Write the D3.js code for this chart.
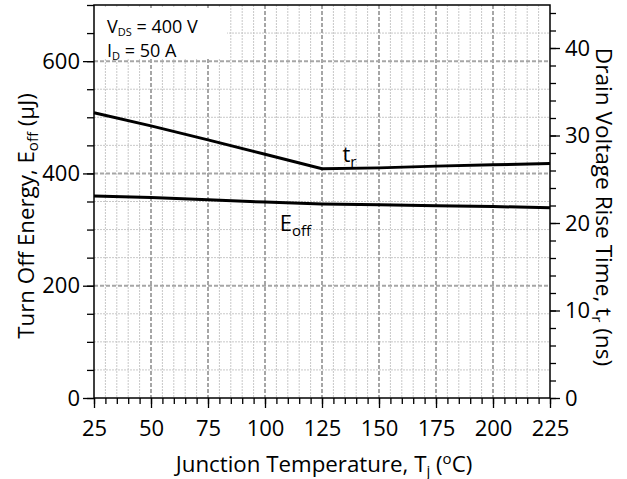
<!DOCTYPE html>
<html>
<head>
<meta charset="utf-8">
<script src="https://cdn.jsdelivr.net/npm/d3@7"></script>
<style>
  body { margin: 0; background: #fff; }
  text { font-family: "Open Sans", sans-serif; fill: #000; }
</style>
</head>
<body>
<div id="chart"></div>
<script>
// temperature points (deg C)
const temps = [25, 50, 75, 100, 125, 150, 175, 200, 225];
// drain voltage rise time t_r (ns), right axis
const riseTime = [32.6, 31.1, 29.5, 27.85, 26.2, 26.3, 26.5, 26.65, 26.8];
// turn off energy E_off (uJ), left axis
const turnOffEnergy = [360, 357, 353, 349, 345.5, 344, 342.5, 341, 339];

const xTicks = [25, 50, 75, 100, 125, 150, 175, 200, 225];
const yLeftTicks = [0, 200, 400, 600];
const yRightTicks = [0, 10, 20, 30, 40];

const margin = { top: 5, right: 77, bottom: 81, left: 94 };
const W = 627, H = 479;
const width = W - margin.left - margin.right;
const height = H - margin.top - margin.bottom;

const svg = d3.select("#chart").append("svg")
    .attr("width", W)
    .attr("height", H);

const g = svg.append("g")
    .attr("transform", `translate(${margin.left},${margin.top})`);

const x = d3.scaleLinear().domain([25, 225]).range([0, width]);
const yL = d3.scaleLinear().domain([0, 700]).range([height, 0]);
const yR = d3.scaleLinear().domain([0, 45]).range([height, height - 45 * 8.75]);

// grid - minor dotted
const xMinor = d3.range(30, 225, 5).filter(v => v % 25 !== 0);
const yMinor = d3.range(50, 700, 50).filter(v => v % 200 !== 0);

g.selectAll(".vminor").data(xMinor).enter().append("line")
    .attr("x1", d => x(d)).attr("x2", d => x(d))
    .attr("y1", 0).attr("y2", height)
    .attr("stroke", "#c8c8c8").attr("stroke-width", 1)
    .attr("stroke-dasharray", "2,1");

g.selectAll(".hminor").data(yMinor).enter().append("line")
    .attr("x1", 0).attr("x2", width)
    .attr("y1", d => yL(d)).attr("y2", d => yL(d))
    .attr("stroke", "#c8c8c8").attr("stroke-width", 1)
    .attr("stroke-dasharray", "2,1");

// grid - major dashed
g.selectAll(".vmajor").data(xTicks.slice(1, -1)).enter().append("line")
    .attr("x1", d => x(d)).attr("x2", d => x(d))
    .attr("y1", 0).attr("y2", height)
    .attr("stroke", "#a6a6a6").attr("stroke-width", 2)
    .attr("stroke-dasharray", "4,2");

g.selectAll(".hmajor").data(yLeftTicks.slice(1)).enter().append("line")
    .attr("x1", 0).attr("x2", width)
    .attr("y1", d => yL(d)).attr("y2", d => yL(d))
    .attr("stroke", "#a6a6a6").attr("stroke-width", 2)
    .attr("stroke-dasharray", "4,2");

// white box behind the test conditions
g.append("rect")
    .attr("x", 1).attr("y", 3)
    .attr("width", 132).attr("height", 51)
    .attr("fill", "#fff");

// frame
g.append("rect")
    .attr("width", width).attr("height", height)
    .attr("fill", "none").attr("stroke", "#000").attr("stroke-width", 1.5);

// axes
const styleAxis = sel => {
    sel.select(".domain").remove();
    sel.selectAll("line").attr("stroke", "#000").attr("stroke-width", 1.3);
    sel.selectAll("text").style("font-size", "22px").style("font-family", "'Open Sans', sans-serif");
};

g.append("g").attr("transform", `translate(0,${height})`)
    .call(d3.axisBottom(x).tickValues(d3.range(25, 226, 5)).tickSize(6).tickFormat(""))
    .call(styleAxis);
g.append("g").attr("transform", `translate(0,${height})`)
    .call(d3.axisBottom(x).tickValues(xTicks).tickSize(10).tickPadding(12))
    .call(styleAxis);

g.append("g")
    .call(d3.axisLeft(yL).tickValues(d3.range(0, 701, 50)).tickSize(7).tickFormat(""))
    .call(styleAxis);
g.append("g")
    .call(d3.axisLeft(yL).tickValues(yLeftTicks).tickSize(11).tickPadding(3))
    .call(styleAxis);

g.append("g").attr("transform", `translate(${width},0)`)
    .call(d3.axisRight(yR).tickValues(d3.range(0, 45, 2)).tickSize(6).tickFormat(""))
    .call(styleAxis);
g.append("g").attr("transform", `translate(${width},0)`)
    .call(d3.axisRight(yR).tickValues(yRightTicks).tickSize(10).tickPadding(5))
    .call(styleAxis);

// curves
const lineR = d3.line().x((d, i) => x(temps[i])).y(d => yR(d));
const lineL = d3.line().x((d, i) => x(temps[i])).y(d => yL(d));

g.append("path").datum(riseTime)
    .attr("d", lineR)
    .attr("fill", "none").attr("stroke", "#000").attr("stroke-width", 3);

g.append("path").datum(turnOffEnergy)
    .attr("d", lineL)
    .attr("fill", "none").attr("stroke", "#000").attr("stroke-width", 3);

// curve labels
const tr = g.append("text")
    .attr("x", x(134)).attr("y", yR(26.8) - 2)
    .style("font-size", "22px");
tr.append("tspan").text("t");
tr.append("tspan").attr("dy", 5).style("font-size", "15px").text("r");

const eo = g.append("text")
    .attr("x", x(106.5)).attr("y", yL(297))
    .style("font-size", "22px");
eo.append("tspan").text("E");
eo.append("tspan").attr("dy", 5).style("font-size", "15px").text("off");

// test conditions
const c1 = g.append("text").attr("x", 13).attr("y", 28).style("font-size", "18px");
c1.append("tspan").text("V");
c1.append("tspan").attr("dy", 3).style("font-size", "11px").text("DS");
c1.append("tspan").attr("dy", -3).text(" = 400 V");

const c2 = g.append("text").attr("x", 13).attr("y", 52).style("font-size", "18px");
c2.append("tspan").text("I");
c2.append("tspan").attr("dy", 3).style("font-size", "11px").text("D");
c2.append("tspan").attr("dy", -3).text(" = 50 A");

// axis titles
const xt = svg.append("text")
    .attr("x", 324).attr("y", 472)
    .attr("text-anchor", "middle")
    .style("font-size", "22.3px");
xt.append("tspan").text("Junction Temperature, T");
xt.append("tspan").attr("dy", 4).style("font-size", "15px").text("j");
xt.append("tspan").attr("dy", -4).text(" (");
xt.append("tspan").attr("dy", -8).style("font-size", "15px").text("o");
xt.append("tspan").attr("dy", 8).text("C)");

const yt = svg.append("text")
    .attr("transform", "translate(34,216) rotate(-90)")
    .attr("text-anchor", "middle")
    .style("font-size", "22.3px");
yt.append("tspan").text("Turn Off Energy, E");
yt.append("tspan").attr("dy", 4).style("font-size", "15px").text("off");
yt.append("tspan").attr("dy", -4).text(" (μJ)");

const rt = svg.append("text")
    .attr("transform", "translate(596,207) rotate(90)")
    .attr("text-anchor", "middle")
    .style("font-size", "22.6px");
rt.append("tspan").text("Drain Voltage Rise Time, t");
rt.append("tspan").attr("dy", 4).style("font-size", "15px").text("r");
rt.append("tspan").attr("dy", -4).text(" (ns)");
</script>
</body>
</html>
